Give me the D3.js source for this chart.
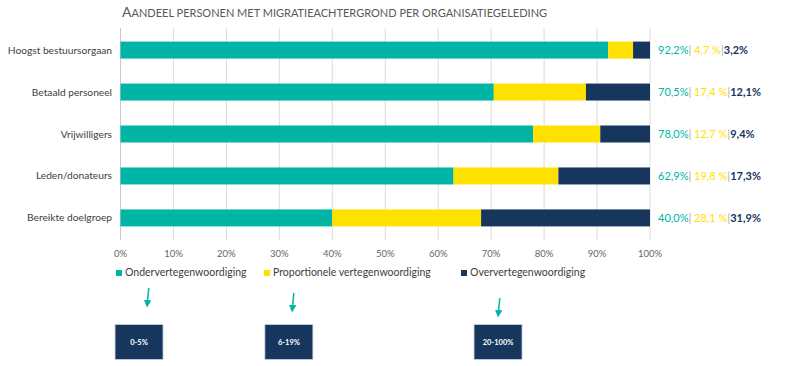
<!DOCTYPE html>
<html>
<head>
<meta charset="utf-8">
<script src="https://cdn.jsdelivr.net/npm/d3@7"></script>
<style>
  body { margin: 0; background: #fff; }
  text { font-family: Lato, "Open Sans", sans-serif; }
</style>
</head>
<body>
<div id="chart"></div>
<script>
var categories = ["Hoogst bestuursorgaan", "Betaald personeel", "Vrijwilligers", "Leden/donateurs", "Bereikte doelgroep"];
var seriesNames = ["Ondervertegenwoordiging", "Proportionele vertegenwoordiging", "Oververtegenwoordiging"];
var onder = [92.2, 70.5, 78.0, 62.9, 40.0];
var prop = [4.7, 17.4, 12.7, 19.8, 28.1];
var over = [3.2, 12.1, 9.4, 17.3, 31.9];
var ticks = [0, 10, 20, 30, 40, 50, 60, 70, 80, 90, 100];
var rangeLabels = ["0-5%", "6-19%", "20-100%"];
var rangeAt = [3.5, 31.8, 71.3];

var colors = ["#00b5a6", "#ffe100", "#17365d"];

createchart();

function createchart() {
  var width = 786;
  var height = 366;

  var svg = d3.select("#chart").append("svg")
    .attr("width", width)
    .attr("height", height);

  var x = d3.scaleLinear().domain([0, 100]).range([120.5, 650]);
  var y = d3.scaleBand().domain(categories).range([29, 239]).paddingInner(0.595).paddingOuter(0.3);

  // title, small caps look
  var title = svg.append("text")
    .attr("x", 122)
    .attr("y", 17)
    .attr("fill", "#595959");
  title.append("tspan").attr("font-size", 14).text("A");
  title.append("tspan").attr("font-size", 11).text("ANDEEL PERSONEN MET MIGRATIEACHTERGROND PER ORGANISATIEGELEDING");

  // gridlines
  svg.append("g").selectAll("line")
    .data(ticks)
    .join("line")
    .attr("x1", d => x(d)).attr("x2", d => x(d))
    .attr("y1", 28).attr("y2", 240)
    .attr("stroke", d => d == 0 ? "#c8c8c8" : "#dcdcdc")
    .attr("stroke-width", 1);

  // tick labels
  svg.append("g").selectAll("text")
    .data(ticks)
    .join("text")
    .attr("x", d => x(d))
    .attr("y", 257)
    .attr("text-anchor", "middle")
    .attr("font-size", 9.5)
    .attr("fill", "#666")
    .text(d => d + "%");

  // stacked bars
  var rows = categories.map(function(c, i) {
    return { cat: c, values: [onder[i], prop[i], over[i]] };
  });
  rows.forEach(function(r) {
    var total = d3.sum(r.values);
    var acc = 0;
    r.segs = r.values.map(function(v, k) {
      var s = { k: k, x0: acc / total * 100, x1: (acc + v) / total * 100 };
      acc += v;
      return s;
    });
  });

  var g = svg.append("g").selectAll("g")
    .data(rows)
    .join("g");

  g.selectAll("rect")
    .data(d => d.segs.map(s => Object.assign({ cat: d.cat }, s)))
    .join("rect")
    .attr("x", d => x(d.x0))
    .attr("y", d => y(d.cat))
    .attr("width", d => x(d.x1) - x(d.x0))
    .attr("height", y.bandwidth())
    .attr("fill", d => colors[d.k]);

  // category labels
  svg.append("g").selectAll("text")
    .data(categories)
    .join("text")
    .attr("x", 112)
    .attr("y", d => y(d) + y.bandwidth() / 2 + 3.5)
    .attr("text-anchor", "end")
    .attr("font-size", 10.2)
    .attr("fill", "#404040")
    .text(d => d);

  // value labels
  var fmt = v => v.toFixed(1).replace(".", ",");
  var lab = svg.append("g").selectAll("text")
    .data(rows)
    .join("text")
    .attr("x", 658)
    .attr("y", d => y(d.cat) + y.bandwidth() / 2 + 4)
    .attr("font-size", 11);
  lab.append("tspan").attr("fill", colors[0]).text(d => fmt(d.values[0]) + "%");
  lab.append("tspan").attr("fill", "#bfbfbf").attr("font-weight", "bold").text("| ");
  lab.append("tspan").attr("fill", colors[1]).text(d => fmt(d.values[1]) + " %");
  lab.append("tspan").attr("fill", "#bfbfbf").attr("font-weight", "bold").text("|");
  lab.append("tspan").attr("fill", colors[2]).attr("font-weight", "bold").text(d => fmt(d.values[2]) + "%");

  // legend
  var legX = [116, 264, 461];
  var leg = svg.append("g").selectAll("g")
    .data(seriesNames)
    .join("g")
    .attr("transform", (d, i) => "translate(" + legX[i] + ",276)");
  leg.append("rect")
    .attr("x", 0).attr("y", -6)
    .attr("width", 6).attr("height", 6)
    .attr("fill", (d, i) => colors[i]);
  leg.append("text")
    .attr("x", 9).attr("y", 0)
    .attr("font-size", 10.5)
    .attr("fill", "#404040")
    .text(d => d);

  // arrows and range boxes
  svg.append("defs").append("marker")
    .attr("id", "arrow")
    .attr("viewBox", "0 0 10 10")
    .attr("refX", 4).attr("refY", 5)
    .attr("markerWidth", 5).attr("markerHeight", 5)
    .attr("orient", "auto")
    .append("path")
    .attr("d", "M0,0 L10,5 L0,10 Z")
    .attr("fill", colors[0]);

  var arrowX = [5.2, 32.6, 71.5];
  var arrowY = [288, 293, 298];
  svg.append("g").selectAll("line")
    .data(arrowX)
    .join("line")
    .attr("x1", d => x(d) + 0.7)
    .attr("x2", d => x(d) - 0.7)
    .attr("y1", (d, i) => arrowY[i])
    .attr("y2", (d, i) => arrowY[i] + 15)
    .attr("stroke", colors[0])
    .attr("stroke-width", 1.5)
    .attr("marker-end", "url(#arrow)");

  var box = svg.append("g").selectAll("g")
    .data(rangeLabels)
    .join("g")
    .attr("transform", (d, i) => "translate(" + x(rangeAt[i]) + ",341.5)");
  box.append("rect")
    .attr("x", -24).attr("y", -17)
    .attr("width", 48).attr("height", 35)
    .attr("fill", colors[2])
    .attr("stroke", "#c9d3df")
    .attr("stroke-width", 0.8);
  box.append("text")
    .attr("y", 3)
    .attr("text-anchor", "middle")
    .attr("font-size", 7.5)
    .attr("font-weight", "bold")
    .attr("fill", "#fff")
    .text(d => d);
}
</script>
</body>
</html>
